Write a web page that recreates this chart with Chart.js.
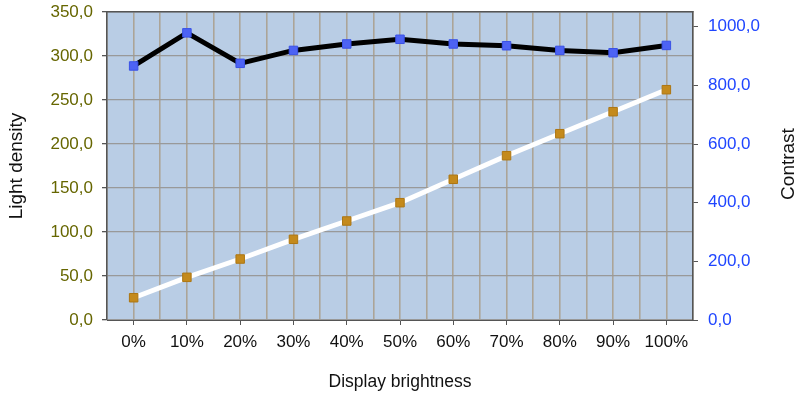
<!DOCTYPE html>
<html>
<head>
<meta charset="utf-8">
<script src="https://cdn.jsdelivr.net/npm/chart.js@4/dist/chart.umd.min.js"></script>
<style>
html,body{margin:0;padding:0;background:#fff;}
#wrap{width:800px;height:394px;position:relative;}
</style>
</head>
<body>
<div id="wrap"><canvas id="c" width="800" height="394"></canvas></div>
<script>
const categories = ['0%','10%','20%','30%','40%','50%','60%','70%','80%','90%','100%'];
const lightDensity = [25.3, 48.5, 69.3, 91.7, 112.5, 133.3, 159.9, 186.7, 211.7, 236.7, 261.7];
const contrast = [866, 979, 875, 919, 941, 957, 941, 935, 919, 911, 936];
const leftTicks = [0, 50, 100, 150, 200, 250, 300, 350];
const rightTicks = [0, 200, 400, 600, 800, 1000];
const xTitle = 'Display brightness';
const leftTitle = 'Light density';
const rightTitle = 'Contrast';

const FONT = '"Liberation Sans", Arial, Helvetica, sans-serif';
const fmt = v => Number(v).toFixed(1).replace('.', ',');

const bgPlugin = {
  id: 'bg',
  beforeDraw(chart) {
    const {ctx, chartArea: a} = chart;
    ctx.save();
    ctx.fillStyle = '#b9cde5';
    ctx.fillRect(a.left, a.top, a.right - a.left, a.bottom - a.top);
    ctx.restore();
  }
};

const titlePlugin = {
  id: 'titles',
  afterDraw(chart) {
    const {ctx, chartArea: a} = chart;
    ctx.save();
    ctx.fillStyle = '#111';
    ctx.textAlign = 'center';
    ctx.textBaseline = 'middle';
    ctx.font = '17.5px ' + FONT;
    ctx.fillText(xTitle, (a.left + a.right) / 2, 382);
    ctx.font = '19px ' + FONT;
    const cy = (a.top + a.bottom) / 2;
    ctx.save();
    ctx.translate(17, cy);
    ctx.rotate(-Math.PI / 2);
    ctx.fillText(leftTitle, 0, 0);
    ctx.restore();
    ctx.save();
    ctx.translate(789, cy - 2);
    ctx.rotate(-Math.PI / 2);
    ctx.fillText(rightTitle, 0, 0);
    ctx.restore();
    ctx.restore();
  }
};

const noPad = s => { s.paddingTop = 0; s.paddingBottom = 0; s.paddingLeft = 0; s.paddingRight = 0; };

new Chart(document.getElementById('c'), {
  type: 'line',
  data: {
    labels: categories,
    datasets: [
      {
        label: rightTitle,
        data: contrast,
        yAxisID: 'y1',
        borderColor: '#000000',
        borderWidth: 5,
        pointStyle: 'rect',
        pointRadius: 6,
        pointBackgroundColor: '#4d63f4',
        pointBorderColor: '#3a52e6',
        pointBorderWidth: 1,
        tension: 0
      },
      {
        label: leftTitle,
        data: lightDensity,
        yAxisID: 'y',
        borderColor: '#ffffff',
        borderWidth: 5,
        pointStyle: 'rect',
        pointRadius: 6,
        pointBackgroundColor: '#c48a1c',
        pointBorderColor: '#ad7612',
        pointBorderWidth: 1,
        tension: 0
      }
    ]
  },
  options: {
    responsive: false,
    animation: false,
    layout: {autoPadding: false, padding: {top: 12, left: 0, right: 0, bottom: 0}},
    plugins: {legend: {display: false}, tooltip: {enabled: false}},
    scales: {
      x: {
        type: 'category',
        position: 'bottom',
        offset: true,
        grid: {display: true, drawOnChartArea: false, drawTicks: true, tickLength: 5, color: '#555', offset: false},
        border: {display: true, color: '#555', width: 1},
        ticks: {color: '#111', font: {family: FONT, size: 17}, padding: 7, maxRotation: 0, autoSkip: false},
        afterFit(s) { s.height = 74; noPad(s); }
      },
      xg: {
        type: 'linear',
        position: 'top',
        min: -0.5,
        max: 10.5,
        grid: {display: true, drawTicks: false, color: '#aca497', lineWidth: 1.6},
        border: {display: true, color: '#555', width: 1.5},
        ticks: {display: false, stepSize: 0.5},
        afterBuildTicks(s) {
          const t = [];
          for (let i = 0; i <= 22; i++) t.push({value: -0.5 + i * 0.5});
          s.ticks = t;
        },
        afterFit(s) { s.height = 0; noPad(s); }
      },
      y: {
        type: 'linear',
        position: 'left',
        min: 0,
        max: 350,
        grid: {color: '#999999', lineWidth: 1.3, drawTicks: true, tickLength: 5, tickColor: '#555'},
        border: {display: true, color: '#555', width: 1.5},
        ticks: {color: '#666600', font: {family: FONT, size: 17}, padding: 9, callback: v => fmt(v)},
        afterBuildTicks(s) { s.ticks = leftTicks.map(v => ({value: v})); },
        afterFit(s) { s.width = 107; noPad(s); }
      },
      y1: {
        type: 'linear',
        position: 'right',
        min: 0,
        max: 1050,
        grid: {drawOnChartArea: false, drawTicks: true, tickLength: 5, color: '#555'},
        border: {display: true, color: '#555', width: 1.5},
        ticks: {color: '#1f45ff', font: {family: FONT, size: 17}, padding: 10, callback: v => fmt(v)},
        afterBuildTicks(s) { s.ticks = rightTicks.map(v => ({value: v})); },
        afterFit(s) { s.width = 107; noPad(s); }
      }
    }
  },
  plugins: [bgPlugin, titlePlugin]
});
</script>
</body>
</html>
